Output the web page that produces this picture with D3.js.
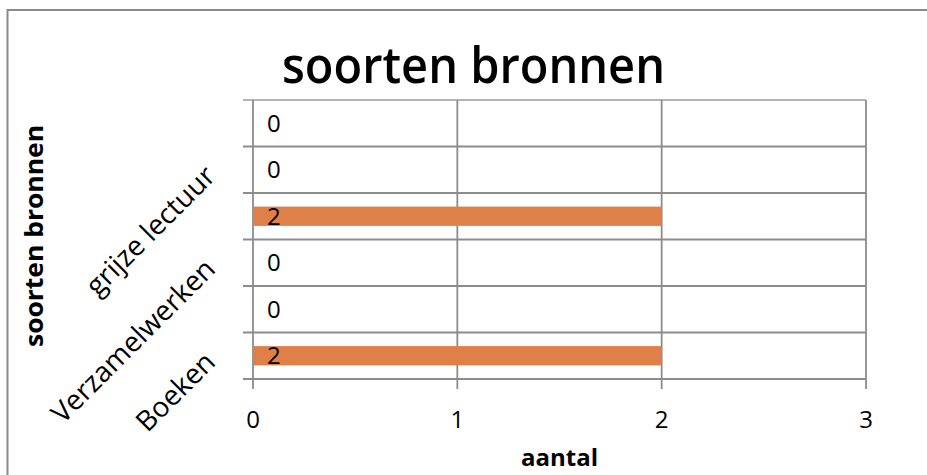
<!DOCTYPE html>
<html><head><meta charset="utf-8">
<script src="https://cdn.jsdelivr.net/npm/d3@7"></script>
<style>body{margin:0;background:#fff;overflow:hidden}</style>
</head><body><svg id="c" width="927" height="475"></svg>
<script>
// Categories bottom to top (only every other label is shown in the reference)
const categories = ["Boeken", "", "Verzamelwerken", "", "grijze lectuur", ""];
const values = [2, 0, 0, 2, 0, 0];
const xTicks = [0, 1, 2, 3];
const chartTitle = "soorten bronnen";
const xTitle = "aantal";
const yTitle = "soorten bronnen";

const W = 927, H = 475;
const plot = {left: 253, right: 866, top: 100, bottom: 379};
const gridColor = "#8c8c8c";
const barColor = "#DF8049";
const font = "'Open Sans', 'Noto Sans', sans-serif";

const svg = d3.select("#c");
const idx = d3.range(categories.length);

const x = d3.scaleLinear().domain([0, 3]).range([plot.left, plot.right]);
const yRow = d3.scaleBand().domain(idx).range([plot.bottom, plot.top]);
const yBar = d3.scaleBand().domain(idx).range([plot.bottom, plot.top]).paddingInner(0.585).paddingOuter(0.2925);

// outer border
svg.append("rect").attr("x", 7.5).attr("y", 10).attr("width", W + 20).attr("height", H + 20)
  .attr("fill", "none").attr("stroke", "#8a8a8a").attr("stroke-width", 2);

// horizontal gridlines (row boundaries) with left tick marks
const bounds = idx.map(i => yRow(i) + yRow.bandwidth()).concat([yRow(idx.length - 1)]);
svg.append("g").selectAll("line").data(bounds).join("line")
  .attr("x1", plot.left - 10).attr("x2", plot.right)
  .attr("y1", d => d).attr("y2", d => d)
  .attr("stroke", (d, i) => d === plot.top ? "#b4b4b4" : gridColor).attr("stroke-width", 1.8);

// vertical gridlines with bottom tick marks
svg.append("g").selectAll("line").data(xTicks).join("line")
  .attr("x1", d => x(d)).attr("x2", d => x(d))
  .attr("y1", plot.top).attr("y2", plot.bottom + 10)
  .attr("stroke", gridColor).attr("stroke-width", 1.8);

// bars
svg.append("g").selectAll("rect").data(idx).join("rect")
  .attr("x", x(0)).attr("y", i => yBar(i))
  .attr("width", i => x(values[i]) - x(0)).attr("height", yBar.bandwidth())
  .attr("fill", barColor);

// data labels (inside base)
svg.append("g").selectAll("text").data(idx).join("text")
  .attr("x", x(0) + 14).attr("y", i => yRow(i) + yRow.bandwidth() / 2)
  .attr("dy", "0.36em")
  .attr("font-family", font).attr("font-size", 24).attr("fill", "#000")
  .text(i => values[i]);

// x tick labels
svg.append("g").selectAll("text").data(xTicks).join("text")
  .attr("x", d => x(d)).attr("y", 428)
  .attr("text-anchor", "middle")
  .attr("font-family", font).attr("font-size", 24).attr("fill", "#000")
  .text(d => d);

// category labels (rotated)
svg.append("g").selectAll("text").data(idx.filter(i => categories[i] !== "")).join("text")
  .attr("transform", i => `translate(${plot.left - 36},${yRow(i) + yRow.bandwidth() / 2 + 8}) rotate(-45)`)
  .attr("text-anchor", "end")
  .attr("font-family", font).attr("font-size", 28).attr("fill", "#000")
  .text(i => categories[i]);

// chart title
svg.append("text").attr("x", 473.5).attr("y", 83)
  .attr("text-anchor", "middle")
  .attr("font-family", font).attr("font-weight", 600).attr("font-size", 50)
  .attr("textLength", 383).attr("lengthAdjust", "spacingAndGlyphs")
  .text(chartTitle);

// x axis title
svg.append("text").attr("x", 559.5).attr("y", 466)
  .attr("text-anchor", "middle")
  .attr("font-family", font).attr("font-weight", 700).attr("font-size", 24)
  .text(xTitle);

// y axis title
svg.append("text").attr("transform", `translate(43,236) rotate(-90)`)
  .attr("text-anchor", "middle")
  .attr("font-family", font).attr("font-weight", 700).attr("font-size", 25)
  .attr("textLength", 222).attr("lengthAdjust", "spacingAndGlyphs")
  .text(yTitle);
</script></body></html>
